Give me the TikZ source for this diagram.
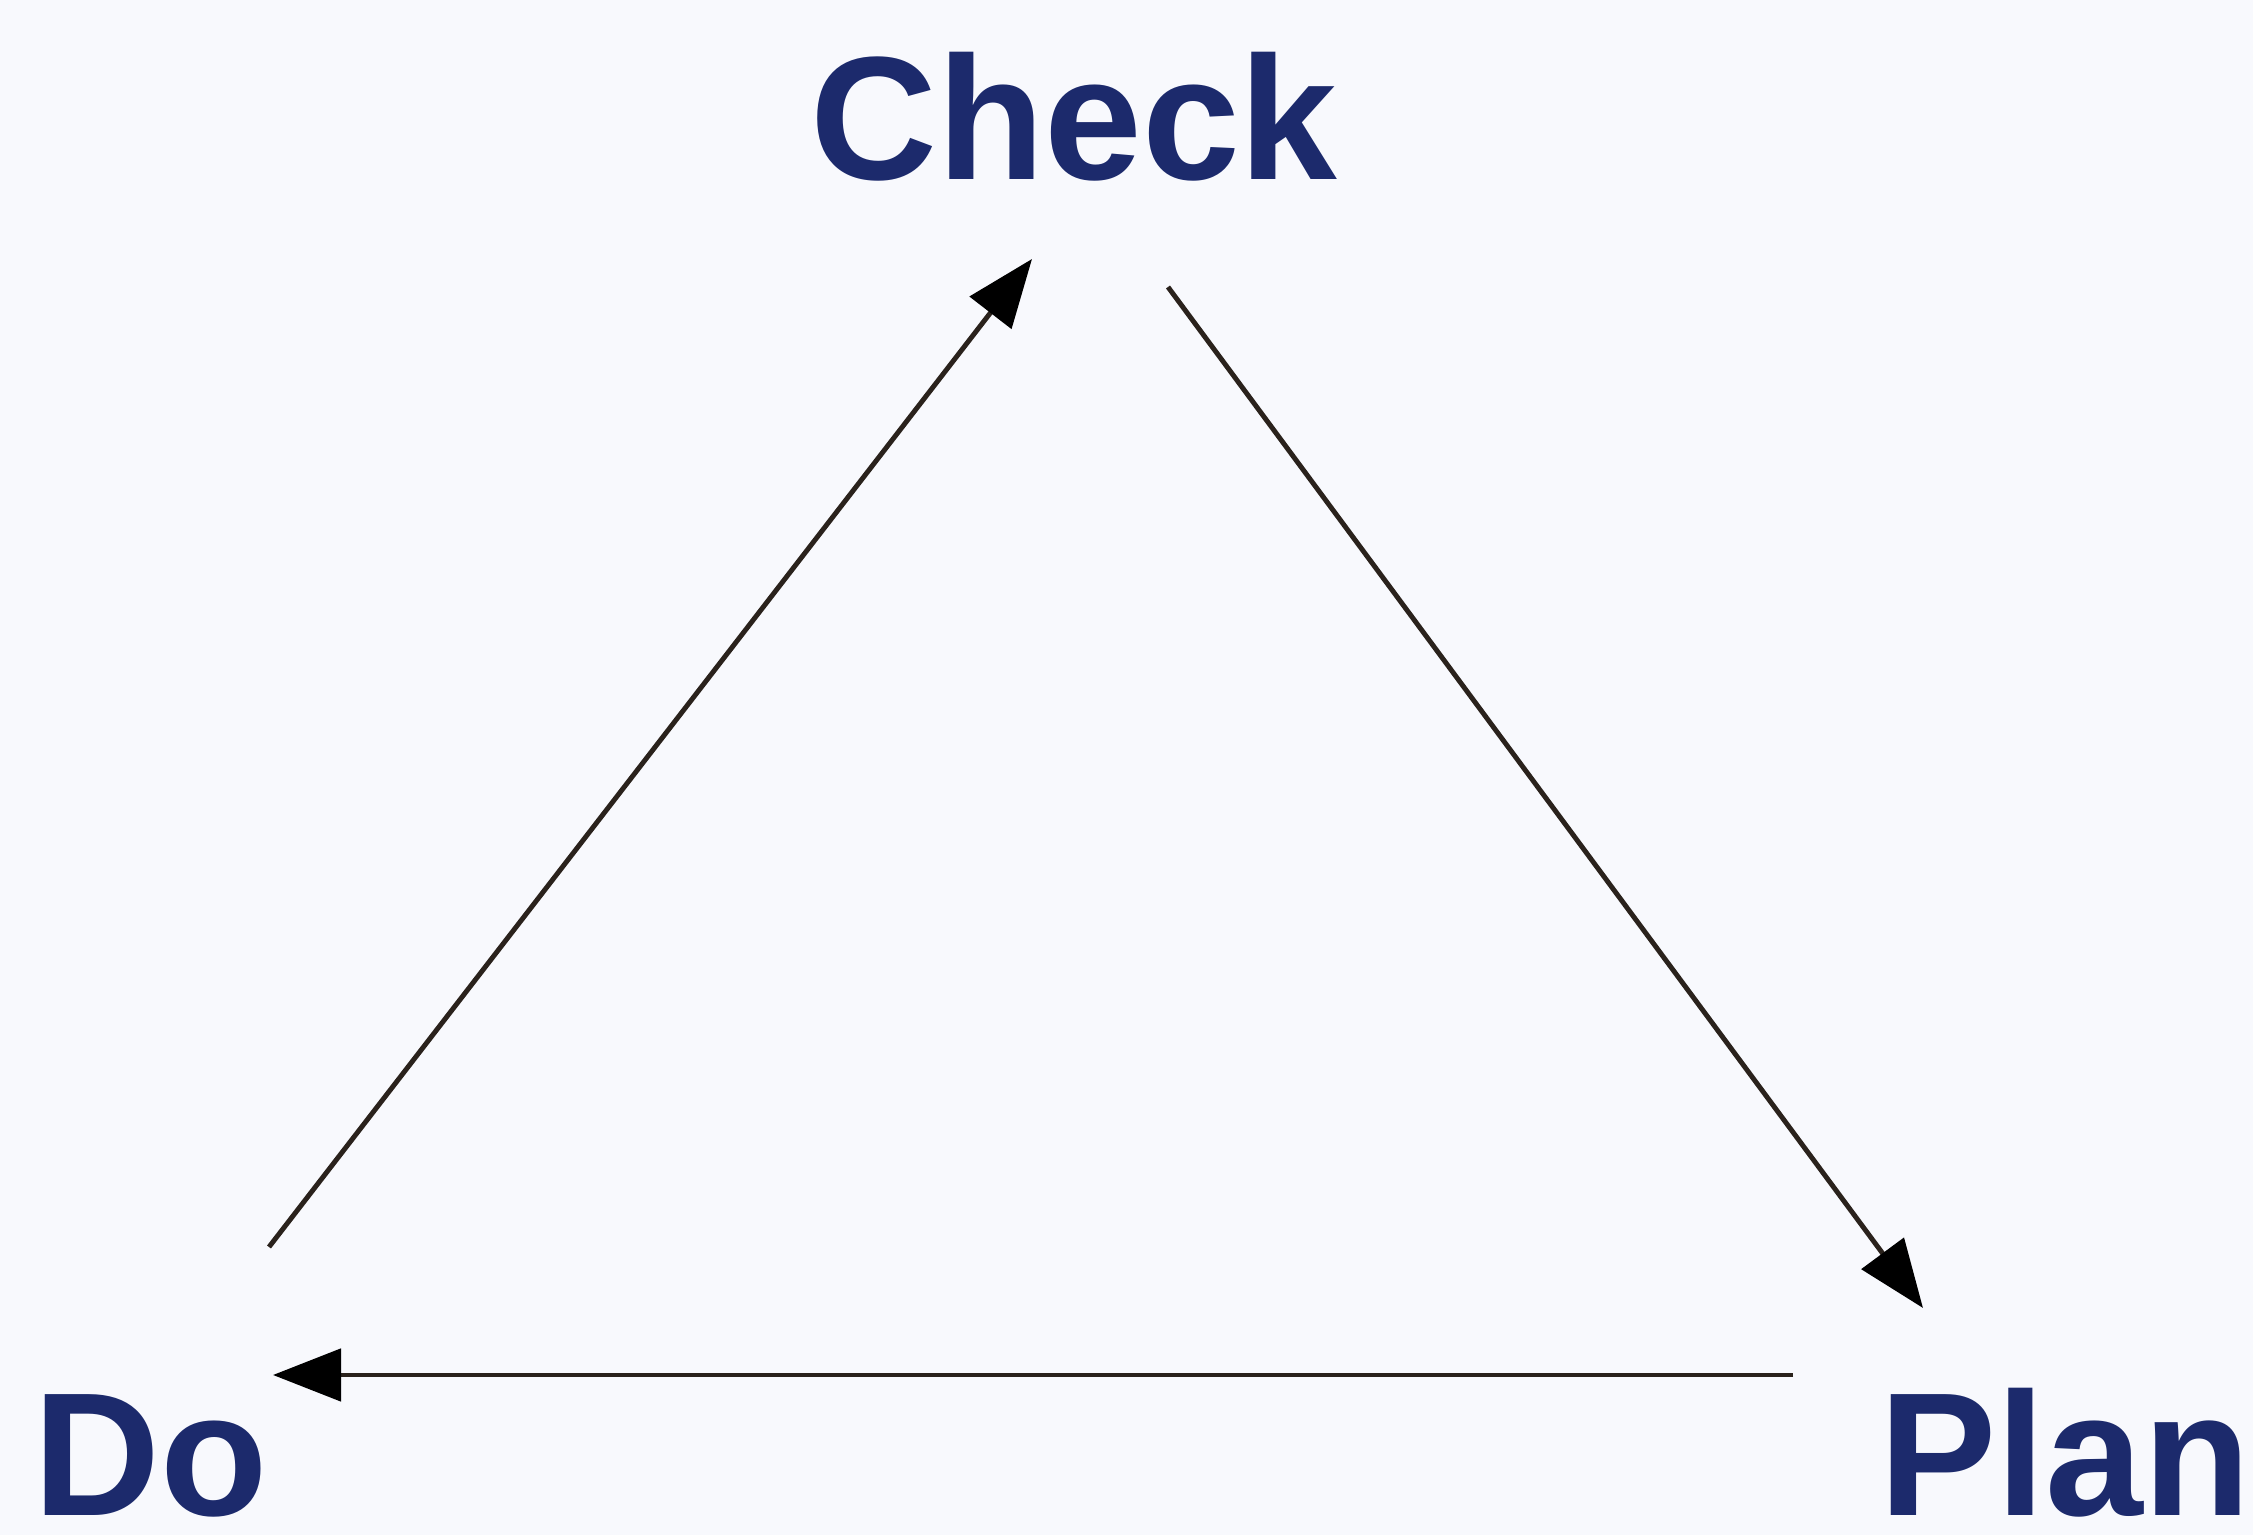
\documentclass[tikz,border=0pt]{standalone}
\usepackage{fontspec}
\setmainfont{Liberation Sans}
\usetikzlibrary{arrows.meta}
\definecolor{cbg}{HTML}{F8F9FD}
\definecolor{clab}{HTML}{1C2A6C}
\definecolor{cline}{HTML}{2A221C}
\begin{document}
\begin{tikzpicture}[
  phase/.style={font=\fontsize{50}{60}\selectfont\bfseries, text=clab, inner sep=0pt, anchor=base},
  cyc/.style={-{Triangle[length=0.68cm, width=0.52cm, fill=black, color=black]}, line width=1.4pt, draw=cline},
]
% ------------------------------------------------------------------ page
\fill[cbg] (0,0) rectangle (22.53,15.35);
\useasboundingbox (0,0) rectangle (22.53,15.35);

% ------------------------------------------------------------------ phases
\node[phase] (check) at (10.74,13.55) {Check};
\node[phase] (do)    at (1.51,0.19)   {Do};
\node[phase] (plan)  at (20.65,0.19)  {Plan};

% ------------------------------------------------------------------ ends of the arrows
\coordinate (do-out)    at (2.69,2.88);
\coordinate (check-in)  at (10.32,12.76);
\coordinate (check-out) at (11.68,12.48);
\coordinate (plan-in)   at (19.23,2.27);
\coordinate (plan-out)  at (17.93,1.60);
\coordinate (do-in)     at (2.73,1.60);

% ------------------------------------------------------------------ cycle
\draw[cyc] (do-out) -- (check-in);
\draw[cyc] (check-out) -- (plan-in);
\draw[cyc] (plan-out) -- (do-in);
\end{tikzpicture}
\end{document}
